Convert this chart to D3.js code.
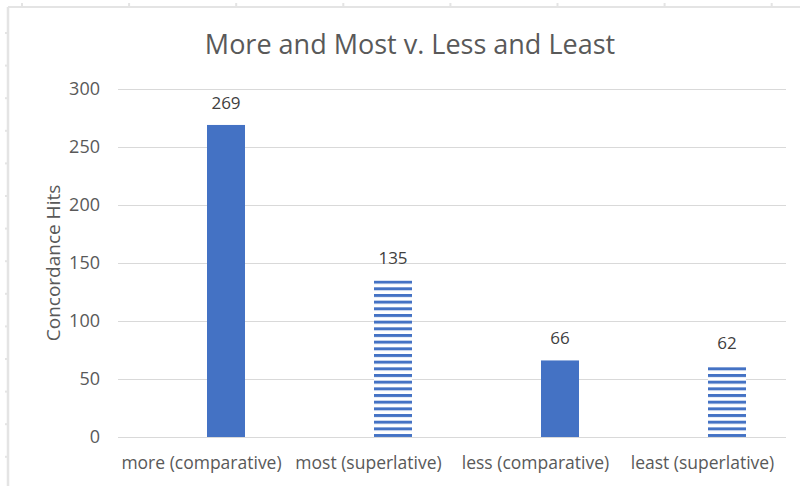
<!DOCTYPE html>
<html>
<head>
<meta charset="utf-8">
<script src="https://cdn.jsdelivr.net/npm/d3@7"></script>
<style>
  html, body { margin: 0; padding: 0; background: #fff; }
  svg { display: block; font-family: "Open Sans", "Noto Sans", sans-serif; }
</style>
</head>
<body>
<div id="chart"></div>
<script>
    // values
    var categories = ["more (comparative)", "most (superlative)", "less (comparative)", "least (superlative)"];
    var hits = [269, 135, 66, 62];
    var striped = [false, true, false, true];
    var yTicks = [0, 50, 100, 150, 200, 250, 300];

    var w = 800,
        h = 486;

    var blue = "#4472C4",
        textGray = "#595959",
        gridGray = "#d9d9d9",
        font = '"Open Sans", "Noto Sans", sans-serif';

    var svg = d3.select("#chart")
        .append("svg")
        .attr("width", w)
        .attr("height", h);

    // horizontal stripe pattern for the superlative bars
    var pat = svg.append("defs").append("pattern")
        .attr("id", "stripes")
        .attr("patternUnits", "userSpaceOnUse")
        .attr("width", 10)
        .attr("height", 6.67)
        .attr("y", 0.5);
    pat.append("rect").attr("width", 10).attr("height", 6.67).attr("fill", "#fff");
    pat.append("rect").attr("width", 10).attr("height", 3).attr("fill", blue);

    // frame of the chart object (spreadsheet edge)
    svg.append("line")
        .attr("x1", 8).attr("x2", w).attr("y1", 7).attr("y2", 7)
        .attr("stroke", "#e4e4e4").attr("stroke-width", 2);
    svg.append("line")
        .attr("x1", 8).attr("x2", 8).attr("y1", 7).attr("y2", h)
        .attr("stroke", "#e4e4e4").attr("stroke-width", 2.5);
    svg.selectAll(".cellx")
        .data(d3.range(22, w, 107.1))
        .enter().append("line")
        .attr("x1", function (d) { return d; }).attr("x2", function (d) { return d; })
        .attr("y1", 3).attr("y2", 7)
        .attr("stroke", "#e4e4e4").attr("stroke-width", 2);
    svg.selectAll(".celly")
        .data(d3.range(33, h, 32.6))
        .enter().append("line")
        .attr("x1", 5).attr("x2", 8)
        .attr("y1", function (d) { return d; }).attr("y2", function (d) { return d; })
        .attr("stroke", "#e4e4e4").attr("stroke-width", 2);

    var plotL = 118, plotR = 786, plotT = 89, plotB = 437;

    var x = d3.scaleBand().domain(categories).range([plotL, plotR]),
        y = d3.scaleLinear().domain([0, 300]).range([plotB, plotT]);

    var barW = 38,
        barShift = 24.5;   // bars sit right of the category centre

    // title
    svg.append("text")
        .attr("x", 410)
        .attr("y", 54)
        .attr("text-anchor", "middle")
        .attr("fill", textGray)
        .style("font-size", "27px")
        .text("More and Most v. Less and Least");

    // y axis with gridlines
    var yAxis = svg.append("g")
        .attr("class", "axis axis--y")
        .attr("transform", "translate(" + plotL + ",0)")
        .call(d3.axisLeft(y).tickValues(yTicks).tickSize(-(plotR - plotL)).tickPadding(18));
    yAxis.attr("font-family", font).attr("font-size", 18);
    yAxis.select(".domain").remove();
    yAxis.selectAll(".tick line").attr("stroke", gridGray);
    yAxis.selectAll(".tick text").attr("fill", textGray);

    // y label
    svg.append("text")
        .attr("transform", "translate(60," + ((plotT + plotB) / 2) + ") rotate(-90)")
        .attr("text-anchor", "middle")
        .attr("fill", textGray)
        .style("font-size", "19px")
        .text("Concordance Hits");

    // x axis
    var xAxis = svg.append("g")
        .attr("class", "axis axis--x")
        .attr("transform", "translate(0," + plotB + ")")
        .call(d3.axisBottom(x).tickSize(0).tickPadding(20));
    xAxis.attr("font-family", font).attr("font-size", 17.5);
    xAxis.select(".domain").remove();
    xAxis.selectAll(".tick text").attr("fill", textGray);

    // bars
    svg.selectAll(".bar")
        .data(categories)
        .enter().append("rect")
        .attr("class", "bar")
        .attr("x", function (d) { return x(d) + x.bandwidth() / 2 + barShift - barW / 2; })
        .attr("y", function (d, i) { return y(hits[i]); })
        .attr("width", barW)
        .attr("height", function (d, i) { return plotB - y(hits[i]); })
        .attr("fill", function (d, i) { return striped[i] ? "url(#stripes)" : blue; });

    // value labels
    svg.selectAll(".value")
        .data(categories)
        .enter().append("text")
        .attr("class", "value")
        .attr("x", function (d) { return x(d) + x.bandwidth() / 2 + barShift; })
        .attr("y", function (d, i) { return y(hits[i]) - 16; })
        .attr("text-anchor", "middle")
        .attr("fill", "#404040")
        .style("font-size", "17px")
        .text(function (d, i) { return hits[i]; });
</script>
</body>
</html>
